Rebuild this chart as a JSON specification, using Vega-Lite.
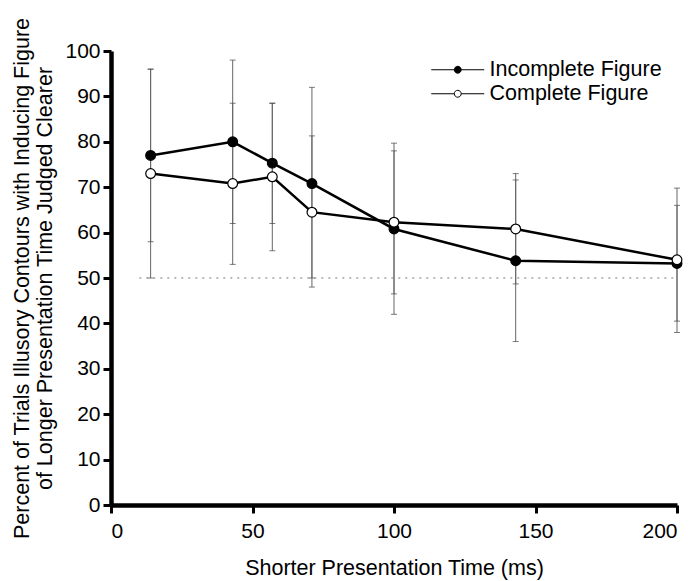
{
  "$schema": "https://vega.github.io/schema/vega-lite/v6.json",
  "width": 566,
  "height": 454,
  "autosize": "none",
  "padding": {"left": 111, "top": 51, "right": 17, "bottom": 76},
  "background": "white",
  "config": {
    "view": {"stroke": null},
    "font": "Liberation Sans",
    "axis": {
      "domainColor": "black",
      "domainWidth": 4.5,
      "tickColor": "black",
      "tickWidth": 3,
      "tickSize": 8,
      "labelFont": "Liberation Sans",
      "labelFontSize": 21,
      "labelColor": "black",
      "titleFont": "Liberation Sans",
      "titleFontSize": 21.5,
      "titleFontWeight": "normal",
      "titleColor": "black",
      "grid": false
    }
  },
  "datasets": {
    "pts": [
      {"series": "Incomplete Figure", "time": 14, "value": 77, "lo": 58, "hi": 96},
      {"series": "Incomplete Figure", "time": 43, "value": 80, "lo": 62, "hi": 98},
      {"series": "Incomplete Figure", "time": 57, "value": 75.3, "lo": 62, "hi": 88.5},
      {"series": "Incomplete Figure", "time": 71, "value": 70.8, "lo": 50, "hi": 92},
      {"series": "Incomplete Figure", "time": 100, "value": 60.8, "lo": 42, "hi": 79.7},
      {"series": "Incomplete Figure", "time": 143, "value": 53.8, "lo": 36, "hi": 73},
      {"series": "Incomplete Figure", "time": 200, "value": 53.2, "lo": 38, "hi": 66},
      {"series": "Complete Figure", "time": 14, "value": 73, "lo": 50, "hi": 96},
      {"series": "Complete Figure", "time": 43, "value": 70.8, "lo": 53, "hi": 88.5},
      {"series": "Complete Figure", "time": 57, "value": 72.3, "lo": 56, "hi": 88.5},
      {"series": "Complete Figure", "time": 71, "value": 64.5, "lo": 48, "hi": 81.3},
      {"series": "Complete Figure", "time": 100, "value": 62.3, "lo": 46.5, "hi": 78},
      {"series": "Complete Figure", "time": 143, "value": 60.8, "lo": 48.7, "hi": 71.6},
      {"series": "Complete Figure", "time": 200, "value": 54, "lo": 40.5, "hi": 69.8}
    ],
    "ref": [{"y": 50, "x1": 10, "x2": 200}]
  },
  "layer": [
    {
      "data": {"name": "ref"},
      "mark": {"type": "rule", "color": "#777", "strokeWidth": 1, "strokeDash": [2, 5]},
      "encoding": {
        "x": {"field": "x1", "type": "quantitative", "scale": {"domain": [0, 200], "nice": false}},
        "x2": {"field": "x2"},
        "y": {"field": "y", "type": "quantitative", "scale": {"domain": [0, 100]}}
      }
    },
    {
      "data": {"name": "pts"},
      "mark": {"type": "rule", "color": "#666", "strokeWidth": 1},
      "encoding": {
        "x": {"field": "time", "type": "quantitative"},
        "y": {"field": "lo", "type": "quantitative"},
        "y2": {"field": "hi"}
      }
    },
    {
      "data": {"name": "pts"},
      "mark": {"type": "tick", "orient": "horizontal", "color": "#444", "size": 6, "thickness": 1},
      "encoding": {
        "x": {"field": "time", "type": "quantitative"},
        "y": {"field": "lo", "type": "quantitative"}
      }
    },
    {
      "data": {"name": "pts"},
      "mark": {"type": "tick", "orient": "horizontal", "color": "#444", "size": 6, "thickness": 1},
      "encoding": {
        "x": {"field": "time", "type": "quantitative"},
        "y": {"field": "hi", "type": "quantitative"}
      }
    },
    {
      "data": {"name": "pts"},
      "mark": {"type": "line", "color": "black", "strokeWidth": 2.5},
      "encoding": {
        "x": {"field": "time", "type": "quantitative"},
        "y": {"field": "value", "type": "quantitative"},
        "detail": {"field": "series", "type": "nominal"}
      }
    },
    {
      "data": {"name": "pts"},
      "mark": {"type": "point", "shape": "circle", "size": 95, "filled": true, "stroke": "black", "strokeWidth": 1.2, "opacity": 1},
      "encoding": {
        "x": {
          "field": "time", "type": "quantitative",
          "scale": {"domain": [0, 200], "nice": false},
          "axis": {"values": [0, 50, 100, 150, 200], "title": "Shorter Presentation Time (ms)", "titlePadding": 16, "labelPadding": 7}
        },
        "y": {
          "field": "value", "type": "quantitative",
          "scale": {"domain": [0, 100]},
          "axis": {"values": [0, 10, 20, 30, 40, 50, 60, 70, 80, 90, 100], "title": ["Percent of Trials Illusory Contours with Inducing Figure", "of Longer Presentation Time Judged Clearer"], "titlePadding": 8, "labelPadding": 3}
        },
        "fill": {
          "field": "series", "type": "nominal",
          "scale": {"domain": ["Incomplete Figure", "Complete Figure"], "range": ["black", "white"]},
          "legend": {
            "title": null,
            "orient": "none",
            "legendX": 336,
            "legendY": 8,
            "symbolType": "M-5.3,0H-0.69M0.69,0H5.3M-0.69,0A0.69,0.69 0 1,0 0.69,0A0.69,0.69 0 1,0 -0.69,0Z",
            "symbolSize": 100,
            "symbolStrokeColor": "black",
            "symbolStrokeWidth": 1,
            "symbolOpacity": 1,
            "labelFontSize": 21.5,
            "labelColor": "black",
            "labelFont": "Liberation Sans",
            "labelLimit": 400,
            "rowPadding": 1,
            "labelOffset": 21
          }
        }
      }
    }
  ]
}
